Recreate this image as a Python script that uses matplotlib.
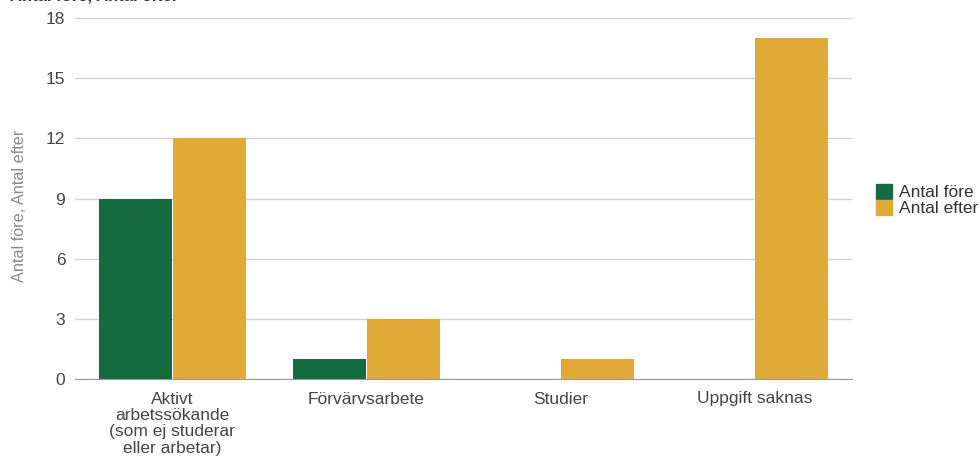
import matplotlib
matplotlib.use("Agg")
import matplotlib.pyplot as plt
import numpy as np
from matplotlib.patches import Patch

plt.rcParams['font.family'] = ['Liberation Sans', 'DejaVu Sans']

categories = ["Aktivt\narbetssökande\n(som ej studerar\neller arbetar)", "Förvärvsarbete", "Studier", "Uppgift saknas"]
antal_fore = [9, 1, 0, 0]
antal_efter = [12, 3, 1, 17]
series_names = ["Antal före", "Antal efter"]
colors = ["#136b3f", "#e1a935"]
yticks = [0, 3, 6, 9, 12, 15, 18]

fig = plt.figure(figsize=(9.8, 4.57), dpi=100)
ax = fig.add_axes([75/980, 1 - 379/457, (852-75)/980, (379-18)/457])

x = np.arange(len(categories))
w = 0.375
ax.bar(x - w/2 - 0.003, antal_fore, width=w, color=colors[0], zorder=3)
ax.bar(x + w/2 + 0.003, antal_efter, width=w, color=colors[1], zorder=3)

ax.set_xlim(-0.5, len(categories) - 0.5)
ax.set_ylim(0, 18)
ax.set_yticks(yticks)
ax.set_yticklabels([str(t) for t in yticks], fontsize=12.5, color="#444444")
ax.set_xticks(x)
ax.set_xticklabels(categories, fontsize=12.5, color="#444444", linespacing=1.12)
ax.tick_params(axis='y', length=0, pad=7)
ax.tick_params(axis='x', length=0, pad=9)
ax.grid(axis='y', color="#c8d3df", linewidth=1, zorder=0)
for s in ["top", "right", "left"]:
    ax.spines[s].set_visible(False)
ax.spines["bottom"].set_color("#999999")
ax.spines["bottom"].set_zorder(4)

fig.text(20/980, 1 - 206/457, "Antal före, Antal efter", rotation=90, ha='center', va='center',
         fontsize=11.7, color="#888888")

fig.text(10/980, 0.993, "Antal före, Antal efter", ha='left', va='bottom', fontsize=12,
         fontweight='bold', color="#333333")

handles = [Patch(color=c) for c in colors]
fig.legend(handles, series_names, loc='center left', bbox_to_anchor=(876/980, 1 - 200/457),
           frameon=False, fontsize=12.5, handlelength=0.95, handleheight=0.95, handletextpad=0.35,
           labelspacing=0.0, borderaxespad=0, borderpad=0, labelcolor="#333333")

fig.savefig("out.png", dpi=100)
